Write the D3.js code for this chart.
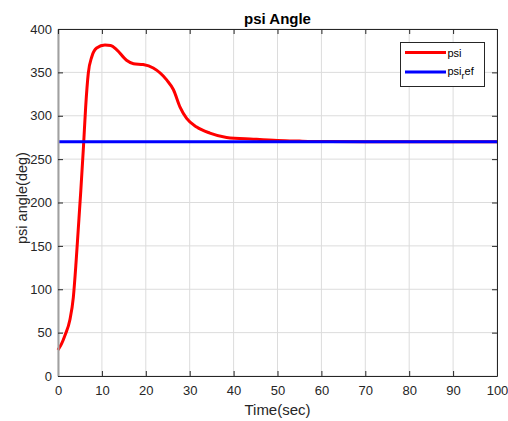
<!DOCTYPE html>
<html><head><meta charset="utf-8">
<script src="https://cdn.jsdelivr.net/npm/d3@7"></script>
<style>body{margin:0;background:#fff;} svg{display:block;}</style>
</head><body>
<script>
const timeSec = [0,0.8,1.6,2.7,3.5,4.1,4.6,5.2,5.8,6.3,6.9,7.7,8.8,10.7,12,13.4,15.6,17.2,19.4,21.7,24.8,26.3,27.8,29.3,31.6,34.6,38.4,44.5,50,55,60,70,80,90,100];
const psiVals = [30,37,47,64.5,91,130,168,214,264,310,349,368,378,381.5,381,376,364,360,359,355,341,330,310,297,287,280,275,273,271.5,270.8,270.3,270.05,270,270,270];
const refTime = [0,100];
const refVals = [270,270];
const xTicks = [0,10,20,30,40,50,60,70,80,90,100];
const yTicks = [0,50,100,150,200,250,300,350,400];
const seriesNames = ["psi","psi_ref"];

(function(){
const W=508,H=421;
const m={l:58,r:497,t:29,b:376};
const svg=d3.select("body").append("svg").attr("width",W).attr("height",H);
const x=d3.scaleLinear().domain([0,100]).range([m.l,m.r]);
const y=d3.scaleLinear().domain([0,400]).range([m.b,m.t]);
const font="Liberation Sans, Arial, Helvetica, sans-serif";

// grid
svg.append("g").selectAll("line").data(xTicks).enter().append("line")
  .attr("x1",d=>x(d)).attr("x2",d=>x(d)).attr("y1",m.t).attr("y2",m.b)
  .attr("stroke","#dcdcdc").attr("stroke-width",1);
svg.append("g").selectAll("line").data(yTicks).enter().append("line")
  .attr("x1",m.l).attr("x2",m.r).attr("y1",d=>y(d)).attr("y2",d=>y(d))
  .attr("stroke","#dcdcdc").attr("stroke-width",1);

// lines
const line=d3.line().x(d=>x(d[0])).y(d=>y(d[1])).curve(d3.curveMonotoneX);
svg.append("path").datum(timeSec.map((t,i)=>[t,psiVals[i]]))
  .attr("d",line).attr("fill","none").attr("stroke","#ff0000").attr("stroke-width",3);
svg.append("path").datum(refTime.map((t,i)=>[t,refVals[i]]))
  .attr("d",d3.line().x(d=>x(d[0])).y(d=>y(d[1]))).attr("fill","none").attr("stroke","#0000ff").attr("stroke-width",3);

// axes
const gb=svg.append("g").attr("transform",`translate(0,${m.b})`)
  .call(d3.axisBottom(x).tickValues(xTicks).tickSizeInner(-5).tickSizeOuter(0).tickPadding(10));
const gl=svg.append("g").attr("transform",`translate(${m.l},0)`)
  .call(d3.axisLeft(y).tickValues(yTicks).tickSizeInner(-5).tickSizeOuter(0).tickPadding(6));
const gt=svg.append("g").attr("transform",`translate(0,${m.t})`)
  .call(d3.axisTop(x).tickValues(xTicks).tickSizeInner(-5).tickSizeOuter(0).tickFormat(""));
const gr=svg.append("g").attr("transform",`translate(${m.r},0)`)
  .call(d3.axisRight(y).tickValues(yTicks).tickSizeInner(-5).tickSizeOuter(0).tickFormat(""));
[gb,gl,gt,gr].forEach(g=>{
  g.selectAll("text").attr("font-family",font).attr("font-size",13).attr("fill","#262626");
  g.selectAll("line").attr("stroke","#262626");
  g.select(".domain").attr("stroke","#262626");
});
gl.select(".domain").attr("stroke","#a0a0a0").attr("stroke-width",2);

// titles
svg.append("text").attr("x",(m.l+m.r)/2).attr("y",24).attr("text-anchor","middle")
  .attr("font-family",font).attr("font-weight","bold").attr("font-size",15).attr("fill","#000").text("psi Angle");
svg.append("text").attr("x",(m.l+m.r)/2).attr("y",415).attr("text-anchor","middle")
  .attr("font-family",font).attr("font-size",15).attr("fill","#262626").text("Time(sec)");
svg.append("text").attr("transform",`translate(27,198) rotate(-90)`).attr("text-anchor","middle")
  .attr("font-family",font).attr("font-size",14.5).attr("fill","#262626").text("psi angle(deg)");

// legend
const lg=svg.append("g");
lg.append("rect").attr("x",400.5).attr("y",42.5).attr("width",84).attr("height",44)
  .attr("fill","#fff").attr("stroke","#262626").attr("stroke-width",1);
const legColors=["#ff0000","#0000ff"];
const legY=[52.5,72];
seriesNames.forEach((n,i)=>{
  lg.append("line").attr("x1",405).attr("x2",446).attr("y1",legY[i]).attr("y2",legY[i])
    .attr("stroke",legColors[i]).attr("stroke-width",3);
});
lg.append("text").attr("x",447.5).attr("y",legY[0]+4).attr("font-family",font).attr("font-size",11).attr("fill","#000").text("psi");
const t2=lg.append("text").attr("x",447.5).attr("y",legY[1]+3).attr("font-family",font).attr("font-size",11).attr("fill","#000");
t2.append("tspan").text("psi");
t2.append("tspan").attr("dy",4).attr("font-size",9).text("r");
t2.append("tspan").attr("dy",-4).text("ef");
})();
</script>
</body></html>
